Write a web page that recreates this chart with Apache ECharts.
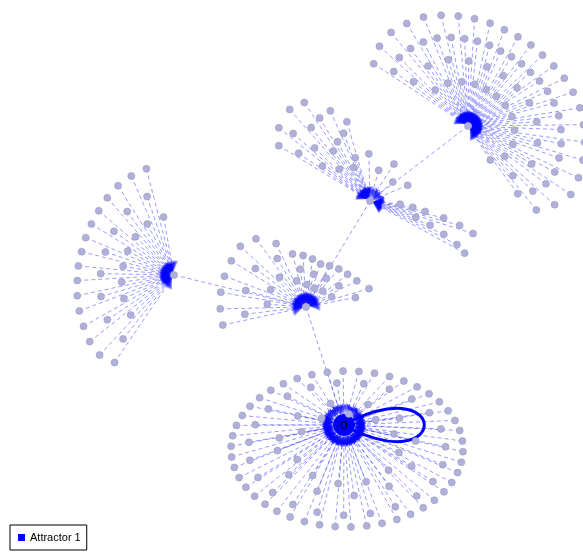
<!DOCTYPE html>
<html>
<head>
<meta charset="utf-8">
<script src="https://cdn.jsdelivr.net/npm/echarts@6/dist/echarts.min.js"></script>
<style>
html, body { margin: 0; padding: 0; background: #fff; }
#main { width: 583px; height: 552px; }
</style>
</head>
<body>
<div id="main"></div>
<script>
// states that collect many predecessors, and the attractor they drain into
const hubs = ['A', 'B', 'C', 'D', 'E']
const attractor = 'E'
const legendNames = ['Attractor 1']
// transitions between hub states
const hubFrom = ['A', 'B', 'C', 'D']
const hubTo = ['B', 'D', 'D', 'E']
// fans of leaf states, each leaf maps onto its hub
const fanHub = ['A', 'B', 'B', 'B', 'C', 'D', 'E']
const fanCount = [72, 18, 5, 11, 32, 34, 92]

// layout of the drawing (units of the hidden axes)
const hubX = [468, 370, 174, 306, 344]
const hubY = [126, 201, 275, 307, 425]
const fanFrom = [-148, -150, -100, 5, 122, 165, -180]
const fanTo = [58, -105, -14, 30, 262, 352, 180]
// fan centre offset from its hub
const fanDX = [0, 0, 0, 0, 0, 0, 3]
const fanDY = [0, 0, 0, 0, 0, 0, 24]
const fanRings = [
	[1, 0.8, 0.6, 1, 0.8, 0.4],
	[1, 0.78, 0.52, 1, 0.85, 0.62, 0.36],
	[1, 0.7],
	[0.28, 0.4, 0.52, 0.7, 0.86, 1, 0.45, 0.6, 0.75, 0.9, 1],
	[1, 0.76, 1, 0.54],
	[1, 0.72, 1, 0.45],
	[1, 0.85, 1, 0.6, 1, 0.85, 1, 0.45]
]
// outer radius along each fan: [angle, radius]; the last fan is an ellipse
const fanProfile = [
	[[-148, 112], [-134, 122], [-113, 118], [-92, 109], [-66, 102], [-40, 103], [-7, 114], [33, 124], [45, 115], [58, 100]],
	[[-150, 105], [-136, 124], [-123, 118], [-105, 80]],
	[[-100, 48], [-14, 40]],
	[[5, 108], [30, 108]],
	[[122, 105], [135, 110], [153, 103], [175, 97], [197, 95], [218, 98], [237, 105], [254, 110], [262, 109]],
	[[165, 85], [215, 88], [226, 90], [236, 83], [255, 55], [290, 45], [330, 55], [352, 72]],
	null
]
const fanAxes = [null, null, null, null, null, null, [116, 78]]

function radiusAt(profile, a) {
	for (let i = 1; i < profile.length; i++) {
		if (a <= profile[i][0]) {
			const p = profile[i - 1], q = profile[i]
			const t = (a - p[0]) / (q[0] - p[0] || 1)
			return p[1] + (q[1] - p[1]) * t
		}
	}
	return profile[profile.length - 1][1]
}

const nodes = []
const links = []

hubs.forEach((h, i) => {
	const node = { name: h, value: [hubX[i], hubY[i]] }
	if (h === attractor) {
		node.category = 0
		node.symbolSize = 22
		node.z = 5
		node.label = { show: true, position: 'inside', formatter: 'o', color: '#000', fontSize: 14, fontFamily: 'Liberation Sans' }
	}
	nodes.push(node)
})

fanHub.forEach((h, f) => {
	const hi = hubs.indexOf(h)
	const cx = hubX[hi] + fanDX[f]
	const cy = hubY[hi] + fanDY[f]
	const n = fanCount[f]
	const rings = fanRings[f]
	for (let j = 0; j < n; j++) {
		const a = fanFrom[f] + (fanTo[f] - fanFrom[f]) * (j + 0.5) / n
		const rad = a * Math.PI / 180
		const k = rings[j % rings.length]
		let x, y
		if (fanAxes[f]) {
			x = cx + k * fanAxes[f][0] * Math.cos(rad)
			y = cy + k * fanAxes[f][1] * Math.sin(rad)
		} else {
			const r = radiusAt(fanProfile[f], a) * k
			x = cx + r * Math.cos(rad)
			y = cy + r * Math.sin(rad)
		}
		const name = h + '-' + f + '-' + j
		nodes.push({ name: name, value: [x, y] })
		links.push({ source: name, target: h })
	}
})

hubFrom.forEach((s, i) => links.push({ source: s, target: hubTo[i] }))

const ai = hubs.indexOf(attractor)

const chart = echarts.init(document.getElementById('main'))

const option = {
	animation: false,
	grid: { left: 0, right: 0, top: 0, bottom: 0 },
	xAxis: { type: 'value', min: 0, max: 583, show: false },
	yAxis: { type: 'value', min: 0, max: 552, inverse: true, show: false },
	legend: {
		data: legendNames,
		left: 10,
		bottom: 2,
		icon: 'rect',
		itemWidth: 7,
		itemHeight: 7,
		padding: [7, 6, 7, 8],
		backgroundColor: '#fff',
		borderColor: '#000',
		borderWidth: 1,
		borderRadius: 0,
		selectedMode: false,
		textStyle: { color: '#000', fontSize: 11, fontFamily: 'Liberation Sans' }
	},
	series: [
		{
			// self transition of the attractor
			type: 'custom',
			coordinateSystem: 'cartesian2d',
			silent: true,
			z: 1,
			data: [[hubX[ai], hubY[ai]]],
			renderItem: function (params, api) {
				const p = api.coord([api.value(0), api.value(1)])
				return {
					type: 'bezierCurve',
					shape: {
						x1: p[0] + 9, y1: p[1] - 5,
						cpx1: p[0] + 104, cpy1: p[1] - 49,
						cpx2: p[0] + 104, cpy2: p[1] + 49,
						x2: p[0] + 9, y2: p[1] + 5
					},
					style: { stroke: '#0000ff', lineWidth: 3, fill: null }
				}
			}
		},
		{
			type: 'graph',
			coordinateSystem: 'cartesian2d',
			silent: true,
			z: 2,
			symbol: 'circle',
			symbolSize: 7,
			categories: [{ name: legendNames[0], itemStyle: { color: '#0000ff', borderWidth: 0 } }],
			itemStyle: { color: '#b0b0dc', borderColor: '#9c9cb4', borderWidth: 0.6 },
			lineStyle: { color: '#0000ff', opacity: 0.4, width: 1, type: [4, 3] },
			edgeSymbol: ['none', 'arrow'],
			edgeSymbolSize: 10,
			label: { show: false },
			emphasis: { disabled: true },
			data: nodes,
			links: links
		}
	]
}

chart.setOption(option)
</script>
</body>
</html>
